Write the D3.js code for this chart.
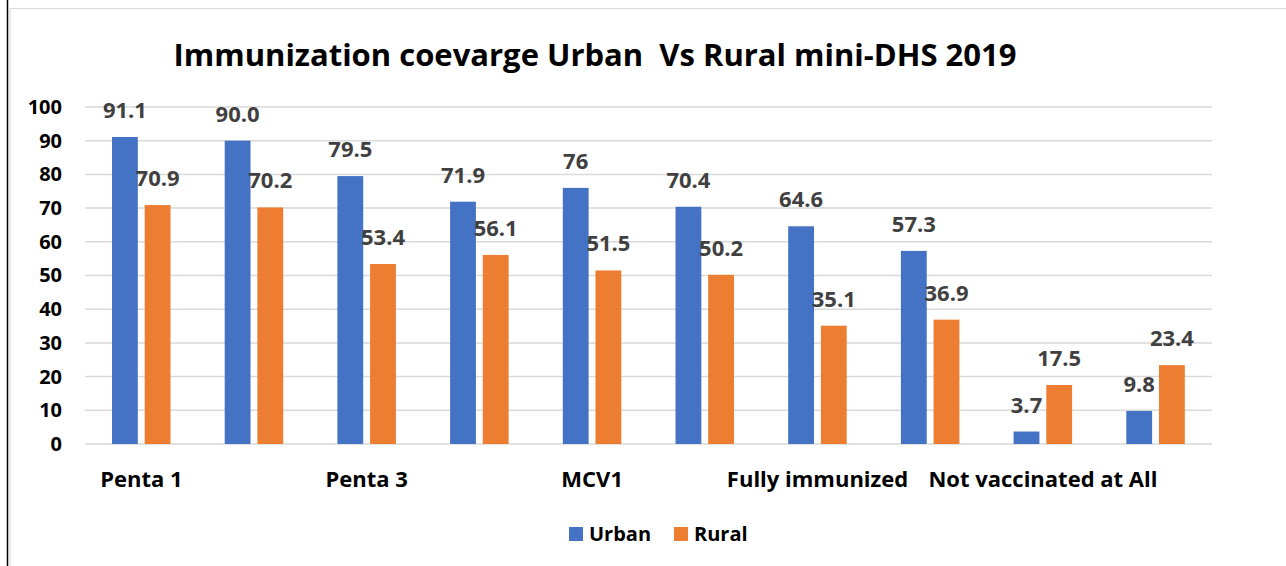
<!DOCTYPE html>
<html>
<head>
<meta charset="utf-8">
<script src="https://cdn.jsdelivr.net/npm/d3@7"></script>
<style>
  body { margin: 0; background: #fff; }
  text { font-family: "Open Sans", sans-serif; font-weight: bold; }
</style>
</head>
<body>
<svg id="chart" width="1286" height="566"></svg>
<script>
var categories = ["Penta 1", "", "Penta 3", "", "MCV1", "", "Fully immunized", "", "Not vaccinated at All", ""]
var urban = [91.1, 90.0, 79.5, 71.9, 76, 70.4, 64.6, 57.3, 3.7, 9.8]
var rural = [70.9, 70.2, 53.4, 56.1, 51.5, 50.2, 35.1, 36.9, 17.5, 23.4]
var urbanLabels = ["91.1", "90.0", "79.5", "71.9", "76", "70.4", "64.6", "57.3", "3.7", "9.8"]
var ruralLabels = ["70.9", "70.2", "53.4", "56.1", "51.5", "50.2", "35.1", "36.9", "17.5", "23.4"]
var yTicks = [0, 10, 20, 30, 40, 50, 60, 70, 80, 90, 100]
var seriesNames = ["Urban", "Rural"]
var colors = ["#4472C4", "#ED7D31"]

var margin = {top: 107, right: 74, bottom: 122, left: 85}
var width = 1286 - margin.left - margin.right
var height = 566 - margin.top - margin.bottom

var svg = d3.select("#chart")

// frame
svg.append("line")
    .attr("x1", 7.5).attr("x2", 7.5).attr("y1", 0).attr("y2", 566)
    .attr("stroke", "#000").attr("stroke-width", 1.5)
svg.append("path")
    .attr("d", "M10,566V8.5H1286")
    .attr("fill", "none").attr("stroke", "#D9D9D9").attr("stroke-width", 1)

svg.append("text")
    .attr("x", 595).attr("y", 66)
    .attr("text-anchor", "middle")
    .attr("font-size", 31)
    .attr("fill", "#000")
    .text("Immunization coevarge Urban\u00a0 Vs Rural mini-DHS 2019")

var g = svg.append("g")
    .attr("transform", `translate(${margin.left},${margin.top})`)

var idx = d3.range(categories.length)
var x = d3.scaleBand().domain(idx).range([0, width])
var inner = d3.scaleBand().domain([0, 1]).range([27, 85.5]).paddingInner(0.21)
var y = d3.scaleLinear().domain([0, 100]).range([height, 0])

// gridlines
g.append("g")
  .selectAll("line")
  .data(yTicks)
  .join("line")
    .attr("x1", 0).attr("x2", width)
    .attr("y1", d => y(d)).attr("y2", d => y(d))
    .attr("stroke", "#D9D9D9").attr("stroke-width", 1.5)

// y axis labels
var yAxis = g.append("g")
    .attr("transform", "translate(-23,0)")
    .call(d3.axisLeft(y).tickValues(yTicks).tickSize(0).tickPadding(0))
yAxis.select(".domain").remove()
yAxis.selectAll("text")
    .attr("font-family", "'Open Sans', sans-serif")
    .attr("font-size", 20)
    .attr("fill", "#000")

// x axis labels
var xAxis = g.append("g")
    .attr("transform", `translate(0,${height})`)
    .call(d3.axisBottom(x).tickFormat(i => categories[i]).tickSize(0))
xAxis.select(".domain").remove()
xAxis.selectAll("text")
    .attr("y", 43)
    .attr("dy", 0)
    .attr("font-family", "'Open Sans', sans-serif")
    .attr("font-size", 22)
    .attr("fill", "#000")

var series = [urban, rural]
var labels = [urbanLabels, ruralLabels]

series.forEach(function(vals, s) {
  var bars = g.append("g")
  bars.selectAll("rect")
    .data(vals)
    .join("rect")
      .attr("x", (d, i) => x(i) + inner(s))
      .attr("width", inner.bandwidth())
      .attr("y", d => y(d))
      .attr("height", d => height - y(d))
      .attr("fill", colors[s])
  bars.selectAll("text")
    .data(vals)
    .join("text")
      .attr("x", (d, i) => x(i) + inner(s) + inner.bandwidth() / 2)
      .attr("y", d => y(d) - 19)
      .attr("text-anchor", "middle")
      .attr("font-size", 22)
      .attr("fill", "#404040")
      .text((d, i) => labels[s][i])
})

// legend
var legend = svg.append("g")
    .attr("transform", "translate(569,527)")
var items = legend.selectAll("g")
  .data(seriesNames)
  .join("g")
    .attr("transform", (d, i) => `translate(${i * 105},0)`)
items.append("rect")
    .attr("width", 14).attr("height", 14)
    .attr("fill", (d, i) => colors[i])
items.append("text")
    .attr("x", 20).attr("y", 14)
    .attr("font-size", 20)
    .attr("fill", "#000")
    .text(d => d)
</script>
</body>
</html>
